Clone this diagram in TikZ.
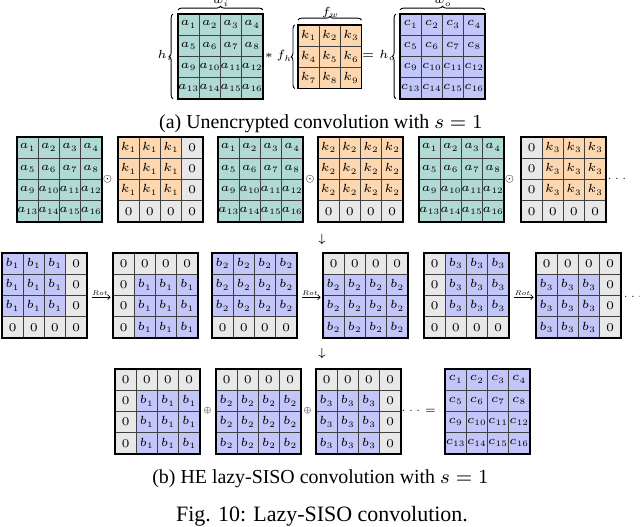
\RequirePackage{fix-cm}
\documentclass[tikz,border=0pt]{standalone}
\usepackage[no-math]{fontspec}
\setmainfont{Liberation Serif}
\usetikzlibrary{decorations.pathreplacing,arrows.meta}
\newcommand\cellfont{\fontsize{5.2}{6}\selectfont}
\definecolor{tealc}{RGB}{176,218,211}
\definecolor{orangec}{RGB}{253,215,176}
\definecolor{bluec}{RGB}{194,198,248}
\definecolor{grayc}{RGB}{232,232,232}
\def\zerotok{0}
\tikzset{
  cell/.style={draw=black!75, line width=0.45pt, minimum size=9.328pt, inner sep=0pt, outer sep=0pt, font=\cellfont},
  frame/.style={draw=black, line width=0.7pt, inner sep=0pt, outer sep=0pt},
  lab/.style={font=\cellfont, inner sep=0pt},
  odotsym/.style={font=\fontsize{4}{5}\selectfont, inner sep=0pt},
  oplussym/.style={font=\fontsize{3.4}{4}\selectfont, inner sep=0pt},
  dotsym/.style={font=\fontsize{4.6}{5}\selectfont, inner sep=0pt},
  brc/.style={decorate, decoration={brace, amplitude=1.6pt}, line width=0.4pt},
  rotarr/.style={-{Straight Barb[length=1.2pt,width=2.2pt]}, line width=0.3pt, shorten <=2.5pt, shorten >=1pt},
  rotlab/.style={font=\fontsize{3}{3}\selectfont, inner sep=0.4pt, above},
  capsub/.style={font=\fontsize{8.75}{10}\selectfont, inner sep=0pt, anchor=base},
  capfig/.style={font=\fontsize{9.65}{11}\selectfont, inner sep=0pt, anchor=base}
}
% #1 name, #2 x, #3 y (top-left, px), #4 columns, #5 fill colour, #6 cell list
\newcommand\gridmat[6]{%
  \foreach \cv [count=\i from 0] in {#6} {%
    \pgfmathtruncatemacro\gr{floor(\i/#4)}%
    \pgfmathtruncatemacro\gc{\i-#4*\gr}%
    \ifx\cv\zerotok\def\cf{grayc}\else\def\cf{#5}\fi
    \node[cell, fill=\cf] (#1-\gr-\gc) at ({#2+(\gc+0.5)*21.2},{#3+(\gr+0.5)*21.2}) {$\cv$};
  }%
  \pgfmathsetmacro\fsz{#4*9.328}%
  \node[frame, minimum size=\fsz pt] (#1) at ({#2+#4*10.6},{#3+#4*10.6}) {};%
}
\begin{document}
\begin{tikzpicture}[x=0.44pt,y=-0.44pt]
\useasboundingbox (0,0) rectangle (640,526);
% ---------------- (a)
\gridmat{A}{178}{14}{4}{tealc}{a_1,a_2,a_3,a_4,a_5,a_6,a_7,a_8,a_9,a_{10},a_{11},a_{12},a_{13},a_{14},a_{15},a_{16}}
\gridmat{K}{298}{25}{3}{orangec}{k_1,k_2,k_3,k_4,k_5,k_6,k_7,k_8,k_9}
\gridmat{C}{400}{14}{4}{bluec}{c_1,c_2,c_3,c_4,c_5,c_6,c_7,c_8,c_9,c_{10},c_{11},c_{12},c_{13},c_{14},c_{15},c_{16}}
\coordinate (wa1) at ([yshift=1.8pt]A.north west);
\coordinate (wa2) at ([yshift=1.8pt]A.north east);
\draw[brc] (wa1) -- (wa2);
\node[lab] (wi) at (220.5,2.5) {$w_i$};
\coordinate (ha1) at ([xshift=-2.2pt]A.south west);
\coordinate (ha2) at ([xshift=-2.2pt]A.north west);
\draw[brc] (ha1) -- (ha2);
\node[lab] (hi) at (165,55.5) {$h_i$};
\coordinate (fw1) at ([yshift=2.2pt]K.north west);
\coordinate (fw2) at ([yshift=2.2pt]K.north east);
\draw[brc] (fw1) -- (fw2);
\node[lab] (fw) at (330.5,12.5) {$f_w$};
\coordinate (fh1) at ([xshift=-1.4pt]K.south west);
\coordinate (fh2) at ([xshift=-1.4pt]K.north west);
\draw[brc] (fh1) -- (fh2);
\node[lab] (fh) at (278.5,56) {$*\,f_h$};
\coordinate (wo1) at ([yshift=1.8pt]C.north west);
\coordinate (wo2) at ([yshift=1.8pt]C.north east);
\draw[brc] (wo1) -- (wo2);
\node[lab] (wo) at (442.5,2.5) {$w_o$};
\coordinate (ho1) at ([xshift=-1.8pt]C.south west);
\coordinate (ho2) at ([xshift=-1.8pt]C.north west);
\draw[brc] (ho1) -- (ho2);
\node[lab] (ho) at (379,55.5) {$= h_o$};
\node[capsub] (capa) at (321,128.5) {(a) Unencrypted convolution with $s=1$};
% ---------------- row 2
\gridmat{r2a}{17}{137}{4}{tealc}{a_1,a_2,a_3,a_4,a_5,a_6,a_7,a_8,a_9,a_{10},a_{11},a_{12},a_{13},a_{14},a_{15},a_{16}}
\gridmat{r2b}{118}{137}{4}{orangec}{k_1,k_1,k_1,0,k_1,k_1,k_1,0,k_1,k_1,k_1,0,0,0,0,0}
\gridmat{r2c}{218}{137}{4}{tealc}{a_1,a_2,a_3,a_4,a_5,a_6,a_7,a_8,a_9,a_{10},a_{11},a_{12},a_{13},a_{14},a_{15},a_{16}}
\gridmat{r2d}{318}{137}{4}{orangec}{k_2,k_2,k_2,k_2,k_2,k_2,k_2,k_2,k_2,k_2,k_2,k_2,0,0,0,0}
\gridmat{r2e}{419}{137}{4}{tealc}{a_1,a_2,a_3,a_4,a_5,a_6,a_7,a_8,a_9,a_{10},a_{11},a_{12},a_{13},a_{14},a_{15},a_{16}}
\gridmat{r2f}{521}{137}{4}{orangec}{0,k_3,k_3,k_3,0,k_3,k_3,k_3,0,k_3,k_3,k_3,0,0,0,0}
\node[odotsym] (o1) at (107.5,179) {$\odot$};
\node[odotsym] (o2) at (310,179) {$\odot$};
\node[odotsym] (o3) at (509.5,179) {$\odot$};
\node[dotsym] (d1) at (617,179) {$\cdots$};
\node[lab] (down1) at (322,240) {$\downarrow$};
% ---------------- row 3
\gridmat{r3a}{2}{253}{4}{bluec}{b_1,b_1,b_1,0,b_1,b_1,b_1,0,b_1,b_1,b_1,0,0,0,0,0}
\gridmat{r3b}{113}{253}{4}{bluec}{0,0,0,0,0,b_1,b_1,b_1,0,b_1,b_1,b_1,0,b_1,b_1,b_1}
\gridmat{r3c}{212}{253}{4}{bluec}{b_2,b_2,b_2,b_2,b_2,b_2,b_2,b_2,b_2,b_2,b_2,b_2,0,0,0,0}
\gridmat{r3d}{323}{253}{4}{bluec}{0,0,0,0,b_2,b_2,b_2,b_2,b_2,b_2,b_2,b_2,b_2,b_2,b_2,b_2}
\gridmat{r3e}{424}{253}{4}{bluec}{0,b_3,b_3,b_3,0,b_3,b_3,b_3,0,b_3,b_3,b_3,0,0,0,0}
\gridmat{r3f}{536}{253}{4}{bluec}{0,0,0,0,b_3,b_3,b_3,0,b_3,b_3,b_3,0,b_3,b_3,b_3,0}
\draw[rotarr] ([yshift=-0.8pt]r3a.east) -- node[rotlab] (rl1) {$Rot$} ([yshift=-0.8pt]r3b.west);
\draw[rotarr] ([yshift=-0.8pt]r3c.east) -- node[rotlab] (rl2) {$Rot$} ([yshift=-0.8pt]r3d.west);
\draw[rotarr] ([yshift=-0.8pt]r3e.east) -- node[rotlab] (rl3) {$Rot$} ([yshift=-0.8pt]r3f.west);
\node[dotsym] (d2) at (633,297) {$\cdots$};
\node[lab] (down2) at (322,354) {$\downarrow$};
% ---------------- row 4
\gridmat{r4a}{115}{369}{4}{bluec}{0,0,0,0,0,b_1,b_1,b_1,0,b_1,b_1,b_1,0,b_1,b_1,b_1}
\gridmat{r4b}{216}{369}{4}{bluec}{0,0,0,0,b_2,b_2,b_2,b_2,b_2,b_2,b_2,b_2,b_2,b_2,b_2,b_2}
\gridmat{r4c}{316}{369}{4}{bluec}{0,0,0,0,b_3,b_3,b_3,0,b_3,b_3,b_3,0,b_3,b_3,b_3,0}
\gridmat{r4d}{445}{369}{4}{bluec}{c_1,c_2,c_3,c_4,c_5,c_6,c_7,c_8,c_9,c_{10},c_{11},c_{12},c_{13},c_{14},c_{15},c_{16}}
\node[oplussym] (p1) at (207.5,410.5) {$\oplus$};
\node[oplussym] (p2) at (307.5,410.5) {$\oplus$};
\node[dotsym] (eq) at (418.5,410.5) {$\cdots=$};
\node[capsub] (capb) at (320.5,483.5) {(b) HE lazy-SISO convolution with $s=1$};
\node[capfig] (capf) at (322,521.5) {Fig. 10: Lazy-SISO convolution.};
\end{tikzpicture}
\end{document}
